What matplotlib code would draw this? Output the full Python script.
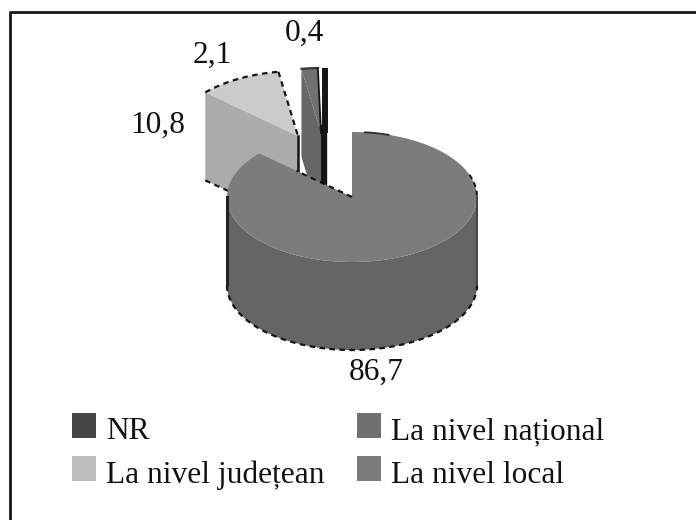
import numpy as np
import matplotlib.pyplot as plt
from matplotlib.patches import Polygon, Patch

plt.rcParams['font.family'] = ['Liberation Serif', 'DejaVu Serif']

# values, clockwise from 12 o'clock
slices = ['La nivel local', 'La nivel județean', 'La nivel național', 'NR']
values = [86.7, 10.8, 2.1, 0.4]
legend_order = ['NR', 'La nivel județean', 'La nivel național', 'La nivel local']

top_colors = {'La nivel local': '#7c7c7c', 'La nivel județean': '#cbcbcb',
              'La nivel național': '#707070', 'NR': '#2a2a2a'}
cut_colors = {'La nivel local': '#646464', 'La nivel județean': '#ababab',
              'La nivel național': '#666666', 'NR': '#1c1c1c'}
legend_colors = {'NR': '#454545', 'La nivel județean': '#bdbdbd',
                 'La nivel național': '#707070', 'La nivel local': '#7a7a7a'}

# pie geometry in pixels
cx, cy = 352, 197
rx, ry = 125, 65
depth = 88
explode = {'La nivel local': (0, 0), 'La nivel județean': (-54, -61),
           'La nivel național': (-31, -64), 'NR': (-27, -64)}
label_pos = [(376, 372), (158, 125), (212, 55), (304, 33)]
edge = '#151515'
dash = (0, (2.5, 2))


def point(angle, dx=0, dy=0):
    a = np.radians(angle)
    return cx + dx + rx * np.sin(a), cy + dy - ry * np.cos(a)


def arc(a0, a1, dx=0, dy=0):
    t = np.linspace(a0, a1, 120)
    xs, ys = point(t, dx, dy)
    return np.column_stack([xs, ys])


fig = plt.figure(figsize=(6.96, 5.2), dpi=100)
ax = fig.add_axes([0, 0, 1, 1])
ax.set_xlim(0, 696)
ax.set_ylim(520, 0)
ax.axis('off')

# only the top and left sides of the frame are in the picture
ax.plot([10, 10, 696], [520, 12, 12], color='#1a1a1a', lw=2)

angles = np.cumsum([0] + values) / sum(values) * 360
spans = {s: (angles[i], angles[i + 1]) for i, s in enumerate(slices)}

# far slices first, the big one goes over them
z = 3
for name in ['NR', 'La nivel național', 'La nivel județean']:
    a0, a1 = spans[name]
    dx, dy = explode[name]
    apex = np.array([cx + dx, cy + dy])
    rim = np.array(point(a0, dx, dy))
    end = np.array(point(a1, dx, dy))
    if name == 'NR':
        # too narrow to show as a wedge, it reads as a plain dark bar
        ax.plot([325, 325], [rim[1], apex[1]], color=edge, lw=4.3, solid_capstyle='butt', zorder=z)
        ax.plot([apex[0] - 2] * 2, [apex[1] - 8, apex[1] + depth], color=edge, lw=6,
                solid_capstyle='butt', zorder=z)
        z += 2
        continue
    cut = np.array([rim, apex, apex + [0, depth], rim + [0, depth]])
    ax.add_patch(Polygon(cut, fc=cut_colors[name], ec='none', zorder=z))
    top = np.vstack([apex, arc(a0, a1, dx, dy)])
    ax.add_patch(Polygon(top, fc=top_colors[name], ec='none', zorder=z))
    if name == 'La nivel național':
        ax.plot(*arc(a0, a1, dx, dy).T, color='#333333', lw=1.5, zorder=z + 1)
        ax.plot([end[0], apex[0]], [end[1], apex[1]], color=edge, lw=1.3, zorder=z + 1)
    if name == 'La nivel județean':
        ax.plot(*arc(a0, a1, dx, dy).T, color=edge, lw=1.6, ls=dash, zorder=z + 1)
        ax.plot([end[0], apex[0]], [end[1], apex[1]], color=edge, lw=1.6, ls=dash, zorder=z + 1)
        ax.plot([apex[0]] * 2, [apex[1], apex[1] + depth], color=edge, lw=1.8, zorder=z + 1)
        ax.plot([rim[0], rim[0] + 24], [rim[1] + depth, rim[1] + depth + 11], color=edge, lw=1.6,
                ls=dash, zorder=z + 1)
    z += 2

# big slice
name = 'La nivel local'
a0, a1 = spans[name]
wall_top = arc(90, 270)
wall = np.vstack([wall_top, wall_top[::-1] + [0, depth]])
ax.add_patch(Polygon(wall, fc=cut_colors[name], ec='none', zorder=z))
top = np.vstack([[cx, cy], arc(a0, a1)])
ax.add_patch(Polygon(top, fc=top_colors[name], ec='none', zorder=z))
ax.plot(*(wall_top + [0, depth]).T, color=edge, lw=1.6, ls=dash, zorder=z + 1)
ax.plot(*arc(6, 17).T, color='#333333', lw=1.4, zorder=z + 1)
ax.plot(*arc(70, 90).T, color=edge, lw=1.4, ls=dash, zorder=z + 1)
ax.plot([cx - rx] * 2, [cy, cy + depth], color='#222222', lw=2.2, zorder=z + 1)
ax.plot([cx + rx] * 2, [cy, cy + depth], color='#444444', lw=1.4, zorder=z + 1)
tip = np.array(point(a1))
near = np.array([cx, cy]) + 0.6 * (tip - [cx, cy])
ax.plot([cx, near[0]], [cy, near[1]], color=edge, lw=1.6, ls=dash, zorder=z + 1)

for v, pos in zip(values, label_pos):
    ax.text(pos[0], pos[1], f'{v}'.replace('.', ','), fontsize=22.6, color='#111111',
            ha='center', va='center', zorder=z + 2)

handles = [Patch(fc=legend_colors[n], ec='none', label=n) for n in legend_order]
leg = ax.legend(handles=handles, ncols=2, frameon=False, fontsize=22.6, loc='upper left',
                bbox_to_anchor=(72 / 696, 1 - 413 / 520), borderaxespad=0, borderpad=0,
                handlelength=0.76, handleheight=0.83, handletextpad=0.32, labelspacing=0.42,
                columnspacing=1.05, labelcolor='#111111')
for t in leg.get_texts():
    t.set_y(-3)

fig.savefig('out.png', dpi=100)
